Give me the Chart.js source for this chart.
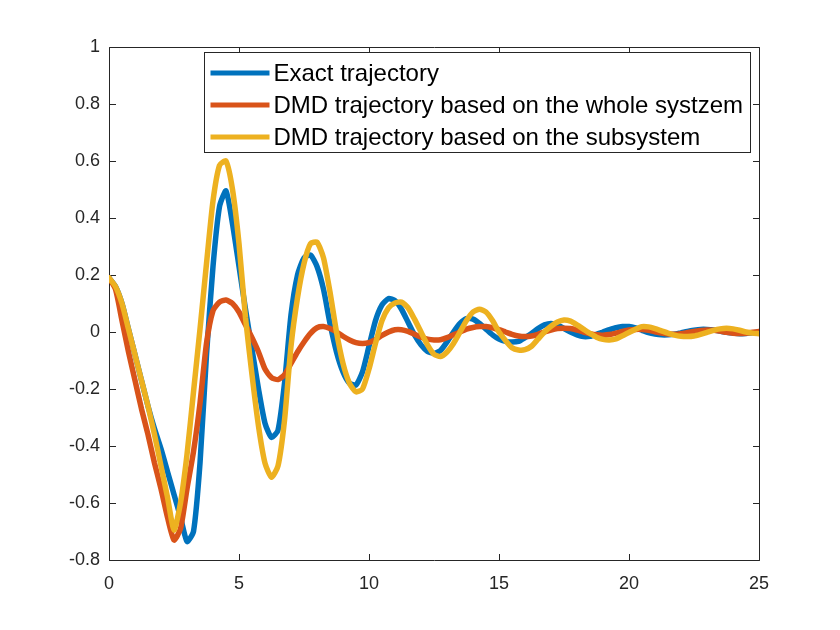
<!DOCTYPE html>
<html>
<head>
<meta charset="utf-8">
<script src="https://cdn.jsdelivr.net/npm/chart.js@4.4.1/dist/chart.umd.min.js"></script>
<style>
html,body{margin:0;padding:0;background:#ffffff;}
#wrap{width:840px;height:630px;position:relative;}
</style>
</head>
<body>
<div id="wrap"><canvas id="c" width="840" height="630"></canvas></div>
<script>
// ---- data ----
const timeValues = [
  0,0.25,0.5,0.75,1,1.25,1.5,1.75,2,2.25,2.5,2.75,3,3.25,3.5,3.75,4,4.25,4.5,4.75,
  5,5.25,5.5,5.75,6,6.25,6.5,6.75,7,7.25,7.5,7.75,8,8.25,8.5,8.75,9,9.25,9.5,9.75,
  10,10.25,10.5,10.75,11,11.25,11.5,11.75,12,12.25,12.5,12.75,13,13.25,13.5,13.75,14,14.25,14.5,14.75,
  15,15.25,15.5,15.75,16,16.25,16.5,16.75,17,17.25,17.5,17.75,18,18.25,18.5,18.75,19,19.25,19.5,19.75,
  20,20.25,20.5,20.75,21,21.25,21.5,21.75,22,22.25,22.5,22.75,23,23.25,23.5,23.75,24,24.25,24.5,24.75,25
];
const exactTrajectory = [
  0.19,0.16,0.10,0.01,-0.08,-0.17,-0.26,-0.34,-0.41,-0.49,-0.57,-0.65,-0.735,-0.70,-0.46,-0.08,0.23,0.44,0.495,0.38,
  0.23,0.08,-0.06,-0.20,-0.32,-0.37,-0.345,-0.18,0.06,0.20,0.26,0.27,0.23,0.15,0.03,-0.07,-0.14,-0.18,-0.186,-0.14,
  -0.05,0.04,0.095,0.117,0.11,0.08,0.035,-0.01,-0.045,-0.068,-0.075,-0.065,-0.035,0.0,0.03,0.047,0.045,0.03,0.01,-0.01,
  -0.025,-0.033,-0.035,-0.033,-0.02,-0.005,0.012,0.025,0.03,0.025,0.012,0.0,-0.01,-0.016,-0.015,-0.008,0.0,0.008,0.015,0.019,
  0.019,0.014,0.006,-0.002,-0.007,-0.01,-0.01,-0.008,-0.003,0.002,0.006,0.009,0.009,0.007,0.003,-0.001,-0.004,-0.006,-0.005,-0.003,0.0
];
const dmdWholeSystem = [
  0.19,0.15,0.04,-0.07,-0.17,-0.27,-0.36,-0.46,-0.55,-0.65,-0.73,-0.69,-0.55,-0.42,-0.25,-0.04,0.075,0.105,0.112,0.10,
  0.07,0.025,-0.02,-0.07,-0.13,-0.16,-0.167,-0.15,-0.11,-0.07,-0.035,-0.005,0.015,0.019,0.012,0.0,-0.015,-0.028,-0.037,-0.04,
  -0.037,-0.027,-0.012,0.0,0.008,0.008,0.002,-0.008,-0.018,-0.025,-0.028,-0.027,-0.02,-0.01,0.0,0.01,0.016,0.019,0.019,0.015,
  0.008,0.0,-0.008,-0.014,-0.016,-0.014,-0.008,0.0,0.007,0.012,0.013,0.012,0.007,0.0,-0.006,-0.01,-0.011,-0.009,-0.004,0.002,
  0.007,0.009,0.009,0.006,0.001,-0.004,-0.007,-0.008,-0.006,-0.002,0.002,0.005,0.007,0.006,0.003,-0.001,-0.004,-0.005,-0.004,-0.001,0.002
];
const dmdSubsystem = [
  0.19,0.16,0.10,0.01,-0.08,-0.17,-0.26,-0.36,-0.47,-0.58,-0.695,-0.60,-0.43,-0.21,0.01,0.24,0.46,0.585,0.60,0.50,
  0.31,0.05,-0.15,-0.33,-0.46,-0.51,-0.47,-0.31,-0.05,0.12,0.24,0.31,0.315,0.26,0.14,0.0,-0.11,-0.18,-0.21,-0.20,
  -0.13,-0.04,0.04,0.085,0.102,0.105,0.085,0.045,0.0,-0.045,-0.078,-0.086,-0.07,-0.04,0.0,0.04,0.07,0.08,0.07,0.04,
  0.0,-0.03,-0.055,-0.063,-0.062,-0.05,-0.025,0.0,0.02,0.035,0.042,0.038,0.025,0.01,-0.005,-0.018,-0.026,-0.028,-0.024,-0.013,
  -0.002,0.01,0.019,0.018,0.012,0.004,-0.004,-0.011,-0.015,-0.016,-0.014,-0.008,-0.001,0.006,0.011,0.013,0.011,0.006,0.0,-0.004,-0.006
];
const seriesLabels = [
  'Exact trajectory',
  'DMD trajectory based on the whole systzem',
  'DMD trajectory based on the subsystem'
];
const seriesColors = ['#0072BD', '#D95319', '#EDB120'];
const xTickValues = [0, 5, 10, 15, 20, 25];
const yTickValues = [-0.8, -0.6, -0.4, -0.2, 0, 0.2, 0.4, 0.6, 0.8, 1];

// ---- helpers ----
const FONT = '"Liberation Sans", Arial, Helvetica, sans-serif';
const AXIS_COLOR = '#262626';
function toPoints(ys) { return timeValues.map((t, i) => ({ x: t, y: ys[i] })); }
function fmt(v) { return String(Number(v.toFixed(1))); }

const allSeries = [exactTrajectory, dmdWholeSystem, dmdSubsystem];
const datasets = allSeries.map((ys, i) => ({
  label: seriesLabels[i],
  data: toPoints(ys),
  borderColor: seriesColors[i],
  backgroundColor: seriesColors[i],
  borderWidth: 5.5,
  pointRadius: 0,
  tension: 0.2,
  fill: false,
  order: allSeries.length - 1 - i,   // later series drawn on top, as in the reference
  borderJoinStyle: 'round',
  borderCapStyle: 'round'
}));

// axes box with inward ticks (MATLAB style)
const axesBox = {
  id: 'axesBox',
  beforeDatasetsDraw(chart) {
    const { ctx, chartArea: a, scales } = chart;
    const L = 6.5;
    ctx.save();
    ctx.strokeStyle = AXIS_COLOR;
    ctx.lineWidth = 1;
    ctx.beginPath();
    const l = Math.round(a.left) + 0.5, r = Math.round(a.right) + 0.5;
    const t = Math.round(a.top) + 0.5, b = Math.round(a.bottom) + 0.5;
    ctx.rect(l, t, r - l, b - t);
    scales.x.ticks.forEach(tk => {
      const px = Math.round(scales.x.getPixelForValue(tk.value)) + 0.5;
      ctx.moveTo(px, b); ctx.lineTo(px, b - L);
      ctx.moveTo(px, t); ctx.lineTo(px, t + L);
    });
    scales.y.ticks.forEach(tk => {
      const py = Math.round(scales.y.getPixelForValue(tk.value)) + 0.5;
      ctx.moveTo(l, py); ctx.lineTo(l + L, py);
      ctx.moveTo(r, py); ctx.lineTo(r - L, py);
    });
    ctx.stroke();
    ctx.restore();
  }
};

// boxed legend inside the plot (MATLAB style)
const boxLegend = {
  id: 'boxLegend',
  afterDatasetsDraw(chart) {
    const { ctx, chartArea: a } = chart;
    const ds = chart.data.datasets;
    ctx.save();
    ctx.font = '24px ' + FONT;
    const left = Math.round(a.left + 95) + 0.5;
    const top = Math.round(a.top + 5) + 0.5;
    const lineStart = left + 6, lineEnd = left + 65, textX = left + 69;
    const rowH = 32, firstRow = top + 20.5;
    let maxW = 0;
    ds.forEach(d => { maxW = Math.max(maxW, ctx.measureText(d.label).width); });
    const w = Math.round(textX + maxW + 7 - left);
    const h = 100;
    ctx.fillStyle = '#ffffff';
    ctx.fillRect(left, top, w, h);
    ctx.strokeStyle = AXIS_COLOR;
    ctx.lineWidth = 1;
    ctx.strokeRect(left, top, w, h);
    ds.forEach((d, i) => {
      const cy = firstRow + i * rowH;
      ctx.strokeStyle = d.borderColor;
      ctx.lineWidth = 5;
      ctx.beginPath();
      ctx.moveTo(lineStart, cy);
      ctx.lineTo(lineEnd, cy);
      ctx.stroke();
      ctx.fillStyle = '#000000';
      ctx.textBaseline = 'middle';
      ctx.textAlign = 'left';
      ctx.fillText(d.label, textX, cy + 1);
    });
    ctx.restore();
  }
};

new Chart(document.getElementById('c'), {
  type: 'line',
  data: { datasets },
  plugins: [axesBox, boxLegend],
  options: {
    responsive: false,
    animation: false,
    devicePixelRatio: 1,
    layout: { padding: { left: 0, top: 47, right: 81, bottom: 0 } },
    plugins: { legend: { display: false }, tooltip: { enabled: false } },
    scales: {
      x: {
        type: 'linear',
        min: 0, max: 25,
        afterBuildTicks: s => { s.ticks = xTickValues.map(v => ({ value: v })); },
        afterFit: s => { s.height = 70; },
        grid: { display: false, drawTicks: false },
        border: { display: false },
        ticks: {
          padding: 13,
          color: AXIS_COLOR,
          font: { family: FONT, size: 18 },
          maxRotation: 0,
          callback: v => fmt(v)
        }
      },
      y: {
        type: 'linear',
        min: -0.8, max: 1,
        afterBuildTicks: s => { s.ticks = yTickValues.map(v => ({ value: v })); },
        afterFit: s => { s.width = 109; },
        grid: { display: false, drawTicks: false },
        border: { display: false },
        ticks: {
          padding: 9,
          color: AXIS_COLOR,
          font: { family: FONT, size: 18 },
          callback: v => fmt(v)
        }
      }
    }
  }
});
</script>
</body>
</html>
